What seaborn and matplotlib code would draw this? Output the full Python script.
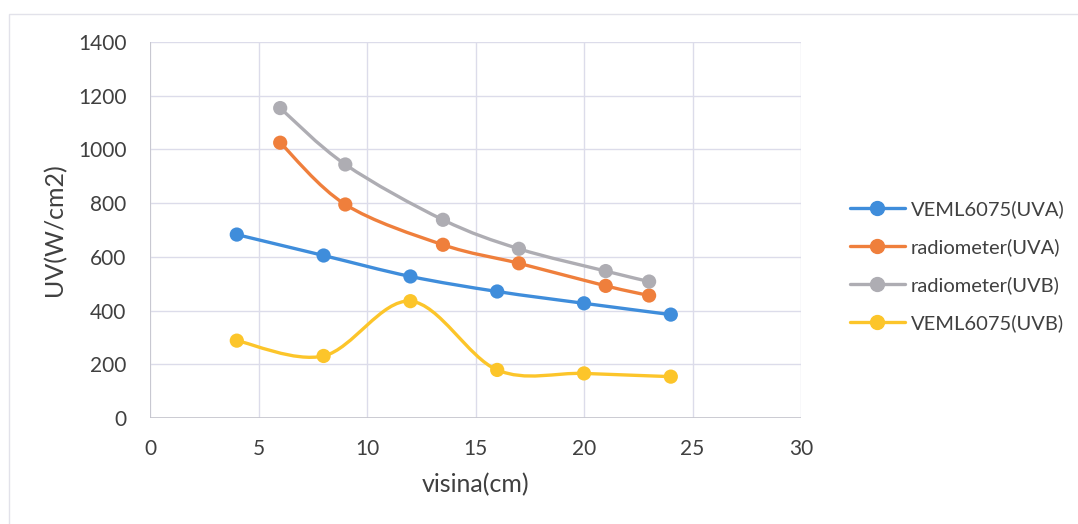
import numpy as np
import pandas as pd
import seaborn as sns
import matplotlib.pyplot as plt
from matplotlib.path import Path
from matplotlib.patches import PathPatch, Rectangle
from matplotlib.lines import Line2D

# values
veml_x = [4, 8, 12, 16, 20, 24]
veml_uva = [683, 605, 527, 471, 427, 385]
veml_uvb = [288, 231, 435, 179, 166, 154]
radio_x = [6, 9, 13.5, 17, 21, 23]
radio_uva = [1025, 795, 645, 576, 492, 456]
radio_uvb = [1154, 944, 738, 630, 547, 508]

names = ['VEML6075(UVA)', 'radiometer(UVA)', 'radiometer(UVB)', 'VEML6075(UVB)']
colors = ['#3f8ddb', '#ef7f3c', '#aeadb3', '#fcc52a']
series = [(veml_x, veml_uva), (radio_x, radio_uva), (radio_x, radio_uvb), (veml_x, veml_uvb)]

table = pd.concat([pd.DataFrame({'x': sx, 'y': sy, 'serie': n})
                   for (sx, sy), n in zip(series, names)], ignore_index=True)

sns.set_style('white')
plt.rcParams['font.family'] = ['Lato', 'DejaVu Sans']
text_col = '#404040'


def smooth_path(xs, ys):
    # excel-like smoothed line: catmull-rom segments as cubic bezier
    p = np.column_stack([xs, ys]).astype(float)
    p = np.vstack([p[0], p, p[-1]])
    verts = [p[1]]
    codes = [Path.MOVETO]
    for i in range(1, len(p) - 2):
        c1 = p[i] + (p[i + 1] - p[i - 1]) / 6
        c2 = p[i + 1] - (p[i + 2] - p[i]) / 6
        verts += [c1, c2, p[i + 1]]
        codes += [Path.CURVE4] * 3
    return Path(verts, codes)


fig = plt.figure(figsize=(10.78, 5.24), dpi=100)
ax = fig.add_axes([150 / 1078, 1 - 418 / 524, 651 / 1078, 376 / 524])

fig.patches.append(Rectangle((9 / 1078, 1 - 1.2), 1.2, 1.2 - 14 / 524, transform=fig.transFigure,
                             fill=False, edgecolor='#e2e2ea', lw=1))

for (sx, sy), c in zip(series, colors):
    ax.add_patch(PathPatch(smooth_path(sx, sy), facecolor='none', edgecolor=c, lw=2.4,
                           zorder=3, capstyle='round'))

sns.scatterplot(data=table, x='x', y='y', hue='serie', palette=colors, hue_order=names,
                s=105, edgecolor='none', legend=False, zorder=4, ax=ax)

ax.set_xlim(0, 30)
ax.set_ylim(0, 1400)
ax.set_xticks(range(0, 31, 5))
ax.set_yticks(range(0, 1401, 200))
ax.grid(True, color='#dcdcea', lw=1)
for s in ax.spines.values():
    s.set_visible(False)
ax.axvline(0, color='#c4c4cc', lw=1.2, zorder=2)
ax.axhline(0, color='#c4c4cc', lw=1.2, zorder=2)
ax.tick_params(length=0, labelsize=15, labelcolor=text_col)
ax.tick_params(axis='y', pad=17)
ax.tick_params(axis='x', pad=15)
ax.set_xlabel('visina(cm)', fontsize=18, color=text_col, labelpad=10)
ax.set_ylabel('UV(W/cm2)', fontsize=18, color=text_col, labelpad=8)

handles = [Line2D([], [], color=c, lw=2.4, marker='o', markersize=10) for c in colors]
leg = fig.legend(handles, names, loc='center left', bbox_to_anchor=(832 / 1078, 1 - 266 / 524),
                 frameon=False, fontsize=14.5, handlelength=2.7, labelspacing=1.0,
                 handletextpad=0.3)
for t in leg.get_texts():
    t.set_color(text_col)

fig.savefig('out.png', dpi=100)
